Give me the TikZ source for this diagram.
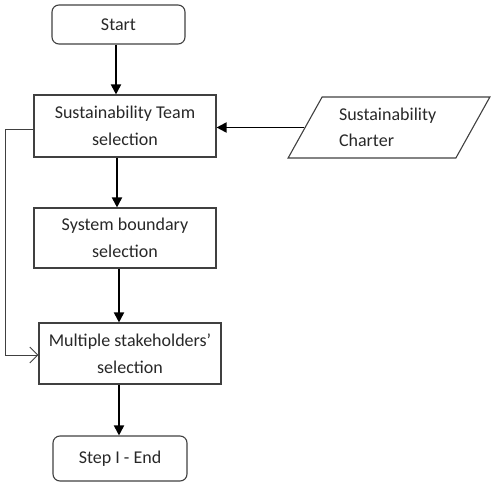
\documentclass[tikz,border=0pt]{standalone}
\usepackage{fontspec}
\setmainfont{Carlito}
\usetikzlibrary{arrows.meta,shapes.geometric}
\definecolor{boxline}{HTML}{404040}
\definecolor{txt}{HTML}{282828}
\begin{document}
\begin{tikzpicture}[x=1pt,y=-1pt,
  every node/.style={font=\fontsize{18}{26.5}\selectfont, text=txt, inner sep=0pt},
  procbox/.style={draw=boxline, line width=1.1pt, rectangle, align=center, fill=white},
  termbox/.style={draw=boxline, line width=1.1pt, rectangle, rounded corners=7pt, align=center},
  databox/.style={draw=boxline, line width=1.1pt, trapezium, trapezium left angle=57, trapezium right angle=123, trapezium stretches=true, align=left},
  arr/.style={draw=black, line width=1.8pt, -{Triangle[length=10pt,width=10pt]}},
  loopline/.style={draw=boxline, line width=0.9pt, -{Straight Barb[length=8pt,width=16pt,line width=0.9pt]}}
]
\useasboundingbox (0,0) rectangle (497,486);
\node[termbox, minimum width=133pt, minimum height=39pt] (start) at (118.5,24.5) {Start};
\node[procbox, minimum width=182pt, minimum height=62pt] (team) at (125,126) {Sustainability Team\\selection};
\node[procbox, minimum width=182pt, minimum height=60pt] (system) at (125,238) {System boundary\\selection};
\node[procbox, minimum width=182pt, minimum height=61pt] (multi) at (130,353.5) {Multiple stakeholders’\\selection};
\node[termbox, minimum width=134pt, minimum height=45pt] (end) at (120,458.5) {Step I - End};
\node[databox, minimum width=202pt, minimum height=61pt, text width=100pt] (charter) at (389,127.5) {Sustainability\\Charter};
\coordinate (loopx) at (5,0);
\draw[arr] ([xshift=-2.5pt]start.south) -- ([xshift=-2.5pt]start.south |- team.north);
\draw[arr] ([xshift=-8pt]team.south) -- ([xshift=-8pt]team.south |- system.north);
\draw[arr] ([xshift=-6pt]system.south) -- ([xshift=-6pt]system.south |- multi.north);
\draw[arr] ([xshift=-11pt]multi.south) -- ([xshift=-11pt]multi.south |- end.north);
\draw[arr] (charter.west) -- (charter.west -| team.east);
\draw[loopline] ([yshift=-3pt]team.west) -- ([yshift=-3pt]team.west -| loopx) |- ([yshift=-1.5pt]multi.west);
\end{tikzpicture}
\end{document}
